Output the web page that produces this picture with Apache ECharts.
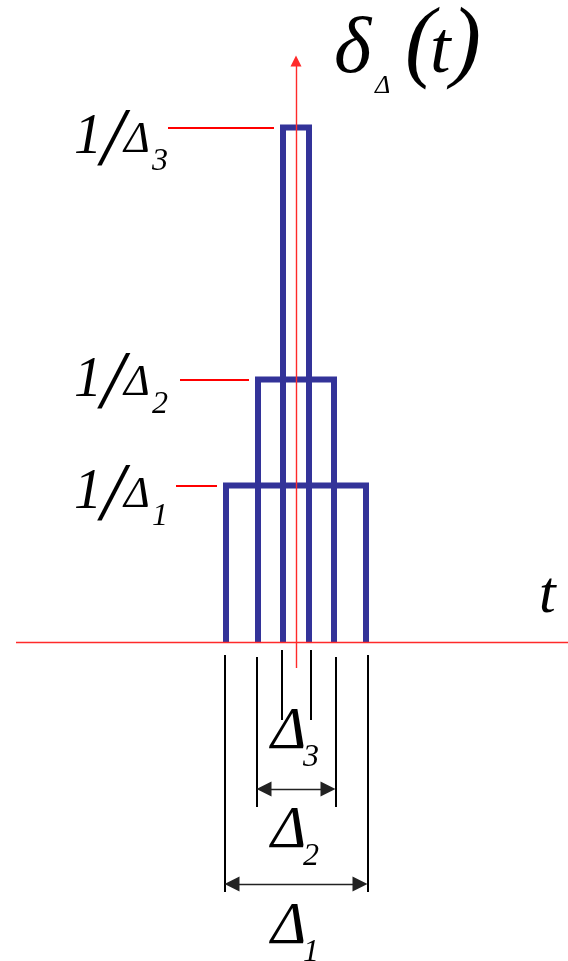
<!DOCTYPE html>
<html lang="en">
<head>
<meta charset="UTF-8">
<title>δΔ(t)</title>
<script src="https://cdn.jsdelivr.net/npm/echarts@6/dist/echarts.min.js"></script>
<style>html,body{margin:0;padding:0;background:#fff}</style>
</head>
<body>
<div id="main" style="width:568px;height:961px"></div>
<script>
// pulse widths Δ1, Δ2, Δ3 and their heights 1/Δ
var subs = ['1', '2', '3'];
var widths = [2.8, 1.52, 0.52];
var heights = [1.565, 2.625, 5.145];

var blue = '#333399';
var red = '#ff0000';

var myChart = echarts.init(document.getElementById('main'));
var series = [];

// the three rectangles
for (var i = 0; i < widths.length; i++) {
    var w = widths[i] / 2, h = heights[i];
    series.push({
        type: 'line',
        data: [[-w, 0], [-w, h], [w, h], [w, 0]],
        symbol: 'none',
        silent: true,
        z: 2,
        lineStyle: {color: blue, width: 6, join: 'miter'}
    });
}

// red ticks pointing at each level
var tickStart = [-2.4, -2.32, -2.56];
series.push({
    type: 'lines',
    coordinateSystem: 'cartesian2d',
    z: 3,
    silent: true,
    lineStyle: {color: red, width: 2, opacity: 1},
    data: heights.map(function (h, i) {
        return {coords: [[tickStart[i], h], [-widths[i] / 2 - 0.18, h]]};
    })
});

// axes (red, drawn over the pulses)
series.push({
    type: 'lines',
    coordinateSystem: 'cartesian2d',
    z: 4,
    silent: true,
    lineStyle: {color: '#ff2a2a', width: 1.4, opacity: 1},
    data: [{coords: [[-5.6, 0], [5.44, 0]]}]
});
series.push({
    type: 'lines',
    coordinateSystem: 'cartesian2d',
    z: 4,
    silent: true,
    symbol: ['none', 'triangle'],
    symbolSize: 11,
    lineStyle: {color: '#ff2a2a', width: 1.4, opacity: 1},
    data: [{coords: [[0, -0.26], [0, 5.81]]}]
});

// dimension lines under the axis
var dimTop = [-0.13, -0.15, -0.08];
var dimBottom = [-2.5, -1.65, -0.78];
var dimData = [];
widths.forEach(function (d, i) {
    var e = d / 2 + 0.03;
    dimData.push({coords: [[-e, dimTop[i]], [-e, dimBottom[i]]]});
    dimData.push({coords: [[e, dimTop[i]], [e, dimBottom[i]]]});
});
series.push({
    type: 'lines',
    coordinateSystem: 'cartesian2d',
    silent: true,
    lineStyle: {color: '#000', width: 2, opacity: 1},
    data: dimData
});

var arrowY = [-2.42, -1.47];
series.push({
    type: 'lines',
    coordinateSystem: 'cartesian2d',
    silent: true,
    symbol: ['triangle', 'triangle'],
    symbolSize: 15,
    lineStyle: {color: '#222', width: 1.4, opacity: 1},
    data: arrowY.map(function (y, i) {
        var e = widths[i] / 2 + 0.03 - 0.15;
        return {coords: [[-e, y], [e, y]]};
    })
});

var option = {
    animation: false,
    backgroundColor: '#fff',
    grid: {left: 0, top: 0, width: 568, height: 961},
    xAxis: {type: 'value', min: -5.92, max: 5.44, show: false},
    yAxis: {type: 'value', min: -3.19, max: 6.42, show: false},
    series: series
};
myChart.setOption(option);

// text pieces, placed from a data anchor; dx in px, base = baseline shift in px
var texts = [];
function put(anchor, str, size, dx, base) {
    var p = myChart.convertToPixel({gridIndex: 0}, anchor);
    texts.push({
        type: 'text', silent: true, z: 10,
        x: p[0] + dx,
        y: p[1] + base - 0.34 * size,
        style: {
            text: str, fill: '#000', align: 'left', verticalAlign: 'middle',
            font: 'italic ' + size + 'px "Liberation Serif", "Times New Roman", serif'
        }
    });
}

// 1/Δi level labels (anchor: right end, on the tick; baseline a little lower)
var levelDrop = [27, 21, 30];
heights.forEach(function (h, i) {
    var a = [-2.58, h];
    var b = levelDrop[i];
    put(a, '1', 56, -93, b);
    put(a, '/', 83, -66, b + 13);
    put(a, 'Δ', 44, -43, b - 2);
    put(a, subs[i], 32, -15, b + 15);
});

// Δi width labels (anchor: centre of the pulse, baseline)
var widthBase = [-3.06, -2.10, -1.11];
widthBase.forEach(function (y, i) {
    put([0, y], 'Δ', 60, -25, 0);
    put([0, y], subs[i], 32, 7, 15);
});

// δΔ(t) and the t axis name
var title = [0.82, 5.64];
put(title, 'δ', 80, -3, 0);
put(title, 'Δ', 26, 38, 17);
put(title, '(', 90, 68, -1);
put(title, 't', 74, 93, 0);
put(title, ')', 90, 114, -1);
put([4.92, 0.27], 't', 60, -3, 2);

myChart.setOption({graphic: texts});
</script>
</body>
</html>
